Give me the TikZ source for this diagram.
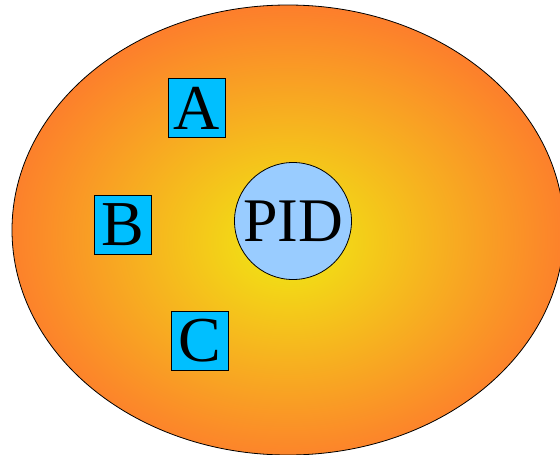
\documentclass[tikz,border=0pt]{standalone}
\usepackage{fontspec}
\setmainfont{Liberation Serif}
\definecolor{cellin}{RGB}{240,234,18}
\definecolor{cellout}{RGB}{255,108,48}
\definecolor{boxblue}{RGB}{0,191,255}
\definecolor{pidblue}{RGB}{153,204,255}
\pgfdeclareradialshading{cellglow}{\pgfpoint{0bp}{-1.5bp}}{%
  color(0bp)=(cellin); color(30bp)=(cellout); color(50bp)=(cellout)}

\begin{document}
\begin{tikzpicture}[x=1pt,y=-1pt,
  letter/.style={draw=black,line width=0.8pt,fill=boxblue,minimum width=57pt,
    minimum height=59pt,inner sep=0pt,font=\fontsize{64}{64}\selectfont},
  core/.style={draw=black,line width=0.8pt,fill=pidblue,circle,minimum size=117pt,
    inner sep=0pt,font=\fontsize{62}{62}\selectfont}]
  \useasboundingbox (0,0) rectangle (560,455);
  \clip (0,0) rectangle (560,455);
  % cell body
  \draw[line width=0.8pt,shading=cellglow] (288,230) ellipse [x radius=276pt,y radius=225pt];
  \node[letter] (A) at (197,108) {A};
  \node[letter] (B) at (122.5,224.5) {B};
  \node[letter] (C) at (200,341) {C};
  \node[core] (pid) at (293,221) {PID};
\end{tikzpicture}
\end{document}
